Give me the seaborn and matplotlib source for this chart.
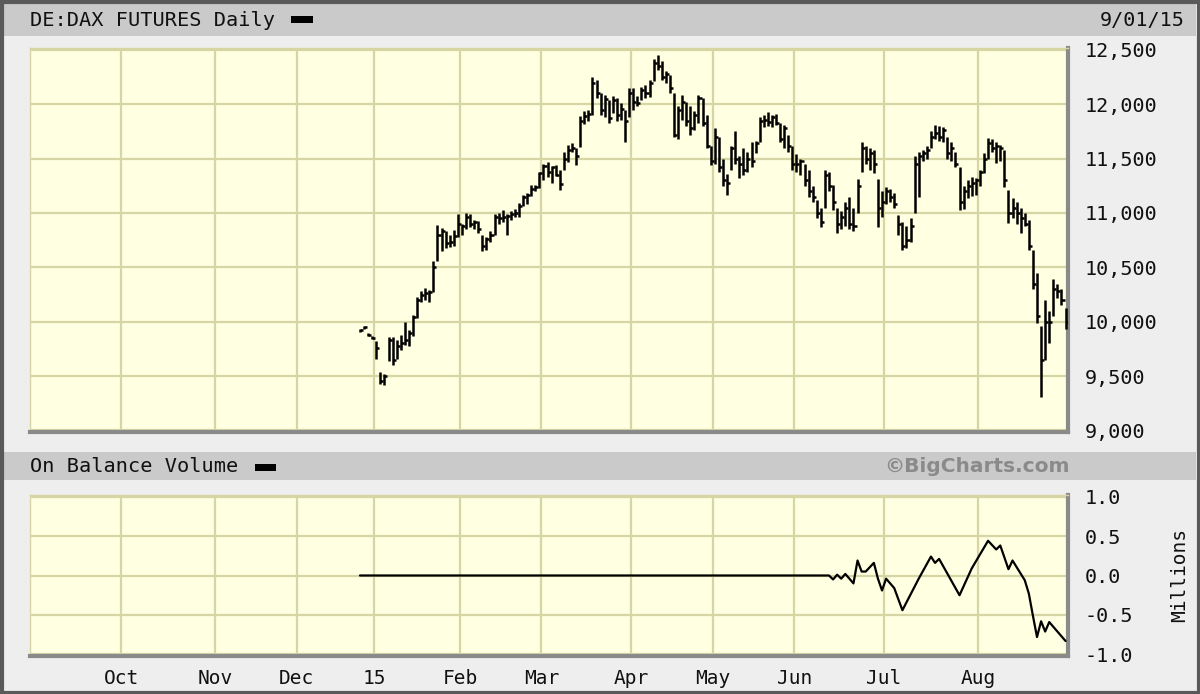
import numpy as np
import pandas as pd
import seaborn as sns
import matplotlib.pyplot as plt
from matplotlib.patches import Rectangle

# trading calendar (Eurex closed on these days)
holidays = ['2014-12-24', '2014-12-25', '2014-12-26', '2014-12-31',
            '2015-01-01', '2015-04-03', '2015-04-06', '2015-05-01']

# daily high / low / close, one entry per trading day from 2014-12-22 to 2015-09-01
price_high = [
    # Dec
    9930, 9960, 9900, 9870,
    # Jan
    9820, 9540, 9520, 9860, 9860, 9830, 9880, 10000, 9920, 10060, 10230,
    10280, 10310, 10290, 10560, 10890, 10860, 10830, 10800, 10840, 10990,
    # Feb
    10900, 11000, 10990, 10940, 10930, 10800, 10780, 10830, 10990, 11000,
    11030, 10990, 11020, 11040, 11090, 11170, 11180, 11260, 11260, 11380,
    # Mar
    11450, 11470, 11430, 11440, 11400, 11560, 11630, 11640, 11600, 11890, 11940,
    11950, 12250, 12220, 12100, 12090, 12040, 12080, 12060, 12010, 11950, 12150,
    # Apr
    12150, 12080, 12160, 12180, 12220, 12420, 12450, 12400, 12310, 12270,
    12100, 11980, 12090, 12020, 11980, 11940, 12090, 12060, 11900, 11620,
    # May
    11780, 11700, 11500, 11360, 11620, 11750, 11520, 11600, 11560, 11650,
    11660, 11880, 11900, 11930, 11900, 11910, 11830, 11810, 11720, 11620,
    # Jun
    11540, 11500, 11450, 11400, 11250, 11120, 11050, 11400, 11380, 11260, 11050,
    11020, 11100, 11150, 11050, 11310, 11650, 11620, 11600, 11580, 11310, 11200,
    # Jul
    11240, 11220, 11180, 10980, 10920, 10880, 10950, 11520, 11560, 11580, 11620, 11750,
    11810, 11800, 11790, 11700, 11650, 11560, 11420, 11250, 11300, 11330, 11320,
    # Aug
    11400, 11550, 11690, 11680, 11650, 11630, 11580, 11210, 11140, 11100, 11050,
    11000, 10940, 10660, 10450, 9960, 10200, 10100, 10390, 10350, 10300,
    # Sep
    10130,
]
price_low = [
    9905, 9930, 9870, 9840,
    9660, 9430, 9420, 9640, 9600, 9660, 9740, 9790, 9780, 9870, 10030,
    10180, 10200, 10180, 10270, 10560, 10650, 10680, 10690, 10700, 10780,
    10800, 10850, 10870, 10850, 10820, 10650, 10660, 10730, 10800, 10900,
    10920, 10800, 10940, 10960, 10960, 11060, 11080, 11160, 11200, 11230,
    11300, 11330, 11280, 11340, 11210, 11400, 11470, 11560, 11440, 11610, 11820,
    11850, 11900, 12060, 11900, 11880, 11830, 11920, 11850, 11860, 11650, 11880,
    11950, 11980, 12040, 12060, 12070, 12210, 12320, 12220, 12200, 12100,
    11700, 11680, 11860, 11800, 11720, 11760, 11830, 11800, 11600, 11440,
    11450, 11380, 11250, 11170, 11400, 11450, 11320, 11350, 11380, 11420,
    11550, 11650, 11790, 11800, 11790, 11810, 11650, 11600, 11560, 11400,
    11380, 11350, 11250, 11150, 11100, 10950, 10870, 11050, 11200, 11030, 10820,
    10850, 10880, 10850, 10830, 11000, 11380, 11450, 11400, 11370, 10870, 10960,
    11080, 11100, 11050, 10800, 10660, 10680, 10730, 11000, 11150, 11480, 11500, 11600,
    11680, 11660, 11650, 11500, 11480, 11420, 11030, 11040, 11140, 11160, 11170,
    11250, 11370, 11500, 11560, 11460, 11480, 11240, 10910, 10950, 10900, 10820,
    10880, 10660, 10300, 9990, 9310, 9650, 9800, 10050, 10220, 10150,
    9930,
]
price_close = [
    9920, 9950, 9880, 9850,
    9760, 9450, 9500, 9830, 9650, 9780, 9800, 9830, 9900, 10040, 10200,
    10250, 10260, 10270, 10500, 10800, 10830, 10720, 10730, 10790, 10900,
    10880, 10960, 10900, 10920, 10850, 10700, 10760, 10800, 10960, 10950,
    10960, 10970, 10990, 11000, 11060, 11150, 11170, 11220, 11240, 11370,
    11430, 11380, 11420, 11350, 11270, 11500, 11580, 11600, 11520, 11850, 11890,
    11910, 12200, 12100, 11950, 12050, 11870, 12040, 11900, 11960, 11850, 12100,
    12020, 12010, 12130, 12100, 12200, 12380, 12350, 12250, 12280, 12150,
    11720, 11950, 12020, 11850, 11780, 11900, 12060, 11830, 11620, 11480,
    11700, 11420, 11300, 11280, 11600, 11500, 11450, 11400, 11500, 11480,
    11640, 11850, 11860, 11840, 11880, 11830, 11680, 11780, 11620, 11450,
    11450, 11480, 11300, 11200, 11150, 11000, 10920, 11350, 11250, 11100, 10900,
    10960, 11050, 10900, 10880, 11250, 11600, 11500, 11550, 11450, 11050, 11100,
    11200, 11150, 11080, 10900, 10700, 10750, 10880, 11450, 11520, 11550, 11580, 11700,
    11740, 11700, 11760, 11550, 11600, 11450, 11100, 11200, 11250, 11280, 11300,
    11380, 11500, 11640, 11600, 11620, 11600, 11300, 11000, 11050, 11000, 10950,
    10900, 10700, 10350, 10050, 9650, 10000, 10000, 10300, 10280, 10200,
    10000,
]

# on balance volume, millions
obv_dates = ['2014-12-22', '2015-06-10', '2015-06-11', '2015-06-12', '2015-06-15',
             '2015-06-16', '2015-06-17', '2015-06-18', '2015-06-19', '2015-06-22',
             '2015-06-23', '2015-06-24', '2015-06-26', '2015-06-29', '2015-06-30',
             '2015-07-01', '2015-07-03', '2015-07-07', '2015-07-13', '2015-07-16',
             '2015-07-17', '2015-07-20', '2015-07-27', '2015-07-30', '2015-08-05',
             '2015-08-07', '2015-08-10', '2015-08-12', '2015-08-13', '2015-08-18',
             '2015-08-19', '2015-08-20', '2015-08-21', '2015-08-24', '2015-08-25',
             '2015-08-26', '2015-09-01']
obv_values = [0.0, 0.0, 0.0, -0.05, 0.01,
              -0.04, 0.02, -0.04, -0.10, 0.19,
              0.05, 0.05, 0.16, -0.04, -0.19,
              -0.04, -0.16, -0.44, -0.04, 0.24,
              0.16, 0.21, -0.25, 0.09, 0.44,
              0.33, 0.38, 0.08, 0.19, -0.06,
              -0.23, -0.51, -0.78, -0.58, -0.71,
              -0.59, -0.83]

month_starts = ['2014-10-01', '2014-11-01', '2014-12-01', '2015-01-01', '2015-02-01',
                '2015-03-01', '2015-04-01', '2015-05-01', '2015-06-01', '2015-07-01',
                '2015-08-01']
month_labels = ['Oct', 'Nov', 'Dec', '15', 'Feb', 'Mar', 'Apr', 'May', 'Jun', 'Jul', 'Aug']
price_ticks = [9000, 9500, 10000, 10500, 11000, 11500, 12000, 12500]
obv_ticks = [-1.0, -0.5, 0.0, 0.5, 1.0]

days = pd.bdate_range('2014-09-01', '2015-09-01')
days = days[~days.isin(pd.to_datetime(holidays))]
pos = pd.Series(np.arange(len(days)), index=days)

price_days = days[days >= '2014-12-22']
df = pd.DataFrame({'x': pos[price_days].values, 'high': price_high,
                   'low': price_low, 'close': price_close})
obv = pd.DataFrame({'x': pos[pd.to_datetime(obv_dates)].values, 'obv': obv_values})
month_x = [pos[days[days >= m][0]] - 0.5 for m in month_starts]

sns.set_theme(style='white')
plt.rcParams['font.family'] = ['DejaVu Sans Mono', 'DejaVu Sans']

BG = '#eeeeee'
PLOT_BG = '#ffffe2'
GRID = '#d6d6a4'
HEAD = '#cacaca'

fig = plt.figure(figsize=(12, 6.94), dpi=100, facecolor=BG)
W, H = 1200, 694

def box(x0, y0, x1, y1, **kw):
    fig.patches.append(Rectangle((x0 / W, 1 - y1 / H), (x1 - x0) / W, (y1 - y0) / H,
                                 transform=fig.transFigure, **kw))

# header bars and outer frame
box(4, 3, 1196, 36, facecolor=HEAD, edgecolor='none')
box(4, 452, 1196, 480, facecolor=HEAD, edgecolor='none')
box(1.5, 1.5, 1198.5, 692.5, facecolor='none', edgecolor='#5a5a5a', lw=3)
box(291, 16, 313, 23, facecolor='black', edgecolor='none')
box(255, 464, 276, 471, facecolor='black', edgecolor='none')

fig.text(30 / W, 1 - 20 / H, 'DE:DAX FUTURES Daily', fontsize=14.6, va='center', color='#111111')
fig.text(1185 / W, 1 - 20 / H, '9/01/15', fontsize=14.5, va='center', ha='right', color='#111111')
fig.text(30 / W, 1 - 467 / H, 'On Balance Volume', fontsize=14.6, va='center', color='#111111')
fig.text(1070 / W, 1 - 467 / H, '\u00a9BigCharts.com', fontsize=14.5, va='center', ha='right',
         color='#8a8a8a', fontweight='bold', family=['DejaVu Sans'])
fig.text(1180 / W, 1 - 575 / H, 'Millions', fontsize=14, va='center', ha='center',
         rotation=90, color='#111111')

ax = fig.add_axes([30 / W, 1 - 432 / H, 1038 / W, 384 / H])
ax2 = fig.add_axes([30 / W, 1 - 656 / H, 1038 / W, 161 / H])

xlim = (-0.9, len(days) - 0.4)
for a in (ax, ax2):
    a.set_facecolor(PLOT_BG)
    a.set_xlim(*xlim)
    a.set_xticks(month_x)
    for x in month_x:
        a.axvline(x, color=GRID, lw=1.6, zorder=0)
    a.spines['top'].set_color(GRID)
    a.spines['left'].set_color(GRID)
    a.spines['top'].set_linewidth(1)
    a.spines['left'].set_linewidth(1)
    a.spines['right'].set_color('#8a8a8a')
    a.spines['bottom'].set_color('#8a8a8a')
    a.spines['right'].set_linewidth(3)
    a.spines['bottom'].set_linewidth(3)
    a.yaxis.tick_right()
    a.tick_params(length=0, labelsize=14.5, colors='#111111', pad=12)

# price bars
ax.set_ylim(8985, 12518)
ax.set_yticks(price_ticks)
ax.set_yticklabels([f'{v:,}' for v in price_ticks])
for v in price_ticks:
    ax.axhline(v, color=GRID, lw=1.6, zorder=0)
ax.set_xticklabels([])
ax.vlines(df['x'], df['low'], df['high'], color='black', lw=1.8, zorder=3)
ax.hlines(df['close'], df['x'], df['x'] + 0.75, color='black', lw=1.8, zorder=3)

# on balance volume
ax2.set_ylim(-1.02, 1.02)
ax2.set_yticks(obv_ticks)
ax2.set_yticklabels([f'{v:.1f}' for v in obv_ticks])
for v in obv_ticks:
    ax2.axhline(v, color=GRID, lw=1.6, zorder=0)
sns.lineplot(data=obv, x='x', y='obv', ax=ax2, color='black', lw=1.6, zorder=3)
ax2.set_xlabel('')
ax2.set_ylabel('')
ax2.set_xticklabels(month_labels)
ax2.tick_params(axis='x', pad=9, labelsize=14)

fig.savefig('out.png', dpi=100, facecolor=BG)
